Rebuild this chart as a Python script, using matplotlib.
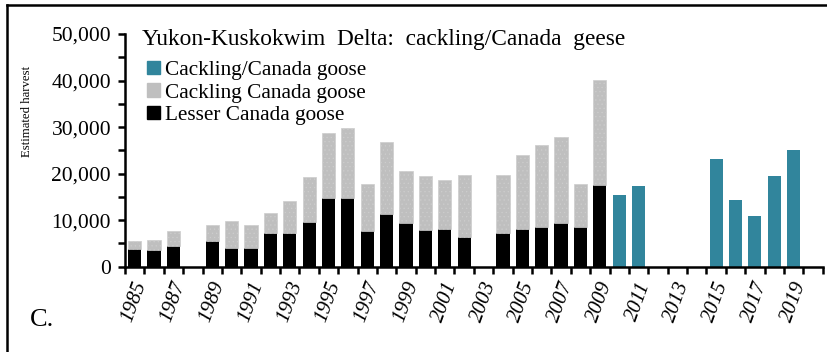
import matplotlib
matplotlib.use("Agg")
from matplotlib import pyplot as plt
from matplotlib.lines import Line2D
from matplotlib.patches import Patch
from matplotlib.ticker import FuncFormatter, MultipleLocator

# harvest estimates
years = list(range(1985, 2021))
lesser = [3800, 3600, 4400, 0, 5500, 4100, 4100, 7200, 7200, 9600,
          14800, 14800, 7700, 11300, 9300, 7900, 8200, 6300, 0, 7200,
          8200, 8500, 9300, 8500, 17600,
          0, 0, 0, 0, 0, 0, 0, 0, 0, 0, 0]
cackling = [1700, 2100, 3300, 0, 3500, 5700, 4900, 4300, 7000, 9600,
            14000, 15000, 10100, 15400, 11300, 11600, 10400, 13500, 0, 12500,
            15700, 17600, 18500, 9300, 22500,
            0, 0, 0, 0, 0, 0, 0, 0, 0, 0, 0]
combined = [0] * 25 + [15300, 17300, 0, 0, 0, 23100, 14300, 11000, 19500, 25000, 0]
xlabels = [str(y) if y % 2 == 1 else "" for y in years]

teal = "#31859C"
grey = "#BFBFBF"

plt.rcParams["font.family"] = ["Liberation Serif", "DejaVu Serif"]
plt.rcParams["hatch.linewidth"] = 0.4

fig = plt.figure(figsize=(8.27, 3.52), dpi=100)
ax = fig.add_axes([125 / 827, 1 - 266.7 / 352, (822.7 - 125) / 827, (266.7 - 34) / 352])

x = list(range(len(years)))
w = 0.68
ax.bar(x, lesser, width=w, color="black", edgecolor="none")
ax.bar(x, cackling, width=w, bottom=lesser, facecolor=grey, edgecolor="#CDCDCD",
       hatch="....", linewidth=0.5)
ax.bar(x, combined, width=w, color=teal, edgecolor="none")

ax.set_xlim(-0.5, len(years) - 0.5)
ax.set_ylim(0, 50000)

# ticks between the categories, labels centred under each odd year
ax.set_xticks([i - 0.5 for i in range(len(years) + 1)])
ax.set_xticklabels([])
ax.set_xticks(x, minor=True)
ax.set_xticklabels(xlabels, minor=True, rotation=70, style="italic", fontsize=15,
                   ha="center", va="top")
ax.tick_params(axis="x", which="major", direction="out", length=5, width=1.8)
ax.tick_params(axis="x", which="minor", length=0, pad=9)

ax.yaxis.set_major_locator(MultipleLocator(10000))
ax.yaxis.set_minor_locator(MultipleLocator(5000))
ax.yaxis.set_major_formatter(FuncFormatter(lambda v, p: "{:,.0f}".format(v)))
ax.tick_params(axis="y", which="both", direction="out", length=5, width=1.8, labelsize=15.5, pad=5)

for s in ["top", "right"]:
    ax.spines[s].set_visible(False)
for s in ["left", "bottom"]:
    ax.spines[s].set_linewidth(1.8)

fig.text(27 / 827, 1 - 111 / 352, "Estimated harvest", rotation=90, fontsize=9.2,
         ha="center", va="center")
fig.text(141.7 / 827, 1 - 45 / 352, "Yukon-Kuskokwim  Delta:  cackling/Canada  geese",
         fontsize=16.8, ha="left", va="baseline")
fig.text(30 / 827, 1 - 320 / 352, "C.", fontsize=19, ha="left", va="center")

handles = [Patch(color=teal), Patch(color=grey), Patch(color="black")]
labels = ["Cackling/Canada goose", "Cackling Canada goose", "Lesser Canada goose"]
fig.legend(handles, labels, loc="upper left", bbox_to_anchor=(147 / 827, 1 - 61 / 352),
           frameon=False, fontsize=15.3, handlelength=0.6, handleheight=0.6,
           handletextpad=0.25, labelspacing=0.15, borderpad=0, borderaxespad=0)

# frame around the panel (only top and left are visible in the crop)
fig.add_artist(Line2D([7 / 827, 7 / 827], [0, 1 - 5 / 352], color="black", lw=1.8))
fig.add_artist(Line2D([7 / 827, 1], [1 - 5 / 352, 1 - 5 / 352], color="black", lw=1.8))

fig.savefig("out.png", dpi=100)
